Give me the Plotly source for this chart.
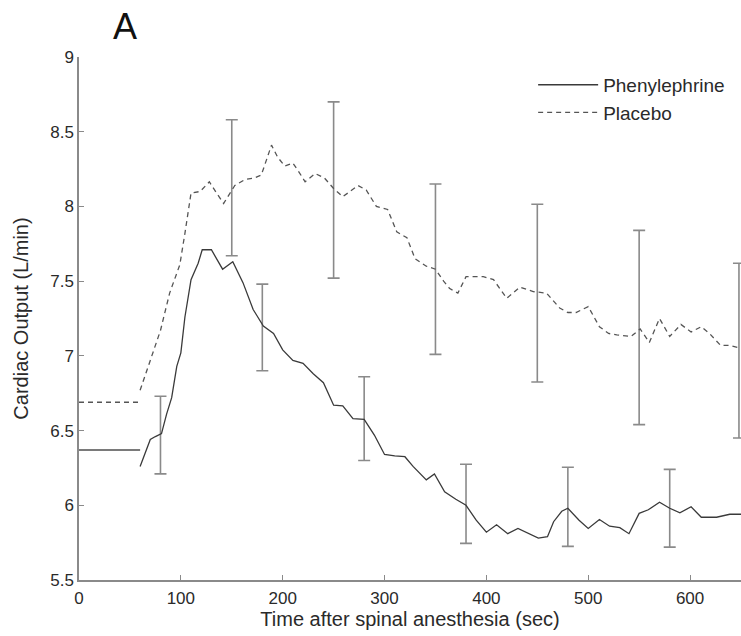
import plotly.graph_objects as go

# ---- data ----
phen_x = [60, 70, 75, 81, 86, 91, 96, 100, 104, 110, 117, 121, 130, 141, 151, 161, 171, 181, 191, 200,
          210, 220, 230, 240, 250, 259, 269, 280, 290, 300, 310, 320, 328, 341, 349, 359, 370, 380, 390,
          400, 410, 421, 431, 439, 451, 460, 466, 474, 480, 491, 500, 511, 521, 531, 540, 550, 559, 570,
          580, 590, 601, 611, 626, 639, 650]
phen_y = [6.26, 6.44, 6.46, 6.48, 6.61, 6.72, 6.93, 7.02, 7.26, 7.51, 7.62, 7.71, 7.71, 7.58, 7.63, 7.49,
          7.31, 7.20, 7.15, 7.04, 6.97, 6.95, 6.88, 6.82, 6.67, 6.665, 6.58, 6.575, 6.47, 6.34, 6.33, 6.325,
          6.26, 6.17, 6.21, 6.09, 6.04, 6.00, 5.90, 5.82, 5.87, 5.81, 5.845, 5.82, 5.78, 5.79, 5.89, 5.96,
          5.98, 5.90, 5.845, 5.905, 5.86, 5.85, 5.81, 5.946, 5.97, 6.02, 5.98, 5.95, 5.99, 5.92, 5.92, 5.94,
          5.94]

plac_x = [60, 70, 80, 89, 99, 104, 110, 119, 128, 135, 142, 153, 163, 172, 179, 189, 195, 202, 210, 216,
          222, 232, 241, 250, 259, 266, 274, 282, 292, 303, 312, 322, 330, 341, 350, 358, 364, 372, 380,
          390, 397, 407, 420, 433, 446, 459, 466, 472, 480, 488, 500, 511, 520, 528, 542, 551, 560, 570,
          580, 591, 601, 611, 619, 630, 639, 650]
plac_y = [6.77, 6.97, 7.17, 7.42, 7.61, 7.82, 8.09, 8.10, 8.165, 8.09, 8.02, 8.14, 8.18, 8.19, 8.21, 8.41,
          8.33, 8.27, 8.29, 8.23, 8.165, 8.22, 8.19, 8.12, 8.065, 8.10, 8.14, 8.11, 8.00, 7.98, 7.83, 7.79,
          7.65, 7.60, 7.58, 7.50, 7.45, 7.42, 7.53, 7.53, 7.53, 7.51, 7.385, 7.46, 7.43, 7.42, 7.37, 7.32,
          7.29, 7.29, 7.33, 7.195, 7.15, 7.14, 7.13, 7.18, 7.09, 7.25, 7.13, 7.21, 7.16, 7.195, 7.15, 7.07,
          7.07, 7.05]

base_x = [0, 60]
phen_base = [6.37, 6.37]
plac_base = [6.69, 6.69]

phen_err_x = [80, 180, 280, 380, 480, 580]
phen_mean = [6.47, 7.19, 6.58, 6.01, 5.99, 5.98]
phen_sd = [0.26, 0.29, 0.28, 0.265, 0.265, 0.26]

plac_err_x = [150, 250, 350, 450, 550, 648]
plac_mean = [8.125, 8.11, 7.58, 7.42, 7.19, 7.035]
plac_sd = [0.455, 0.59, 0.57, 0.595, 0.65, 0.585]

x_ticks = [0, 100, 200, 300, 400, 500, 600]
y_ticks = [5.5, 6, 6.5, 7, 7.5, 8, 8.5, 9]

FONT = "Liberation Sans, Arial, sans-serif"
LINE = "#3a3a3a"
GRAY = "#8a8a8a"

fig = go.Figure()

# error bars
for ex, em, es in ((phen_err_x, phen_mean, phen_sd), (plac_err_x, plac_mean, plac_sd)):
    fig.add_trace(go.Scatter(
        x=ex, y=em, mode="markers", marker=dict(size=1, color="rgba(0,0,0,0)"),
        error_y=dict(type="data", array=es, visible=True, color=GRAY, thickness=1.6, width=6),
        showlegend=False, hoverinfo="skip", cliponaxis=False))

# baselines
fig.add_trace(go.Scatter(x=base_x, y=phen_base, mode="lines",
                         line=dict(color="#7a7a7a", width=2), showlegend=False))
fig.add_trace(go.Scatter(x=base_x, y=plac_base, mode="lines",
                         line=dict(color="#555555", width=1.6, dash="5px,4px"), showlegend=False))

# curves
fig.add_trace(go.Scatter(x=phen_x, y=phen_y, mode="lines", name="Phenylephrine",
                         line=dict(color=LINE, width=1.3)))
fig.add_trace(go.Scatter(x=plac_x, y=plac_y, mode="lines", name="Placebo",
                         line=dict(color="#555555", width=1.3, dash="5px,4px")))

axis_common = dict(showgrid=False, zeroline=False, showline=True, linecolor=GRAY, linewidth=1.5,
                   ticks="inside", ticklen=5, tickcolor=GRAY, tickwidth=1.2,
                   tickfont=dict(family=FONT, size=17, color="#2a2a2a"), mirror=False)

fig.update_layout(
    width=741, height=636, autosize=False,
    margin=dict(l=79, r=0, t=57, b=56),
    paper_bgcolor="white", plot_bgcolor="white",
    font=dict(family=FONT, color="#2a2a2a"),
    xaxis=dict(range=[0, 650], tickvals=x_ticks, ticklabelstandoff=2,
               title=dict(text="Time after spinal anesthesia (sec)", font=dict(family=FONT, size=20, color="#2a2a2a"),
                          standoff=4), **axis_common),
    yaxis=dict(range=[5.5, 9], tickvals=y_ticks,
               title=dict(text="Cardiac Output (L/min)", font=dict(family=FONT, size=20, color="#2a2a2a"),
                          standoff=16), **axis_common),
    legend=dict(x=0.686, y=0.983, xanchor="left", yanchor="top", bgcolor="rgba(0,0,0,0)",
                font=dict(family=FONT, size=19, color="#2a2a2a"), itemwidth=60, tracegroupgap=0),
    annotations=[dict(text="A", xref="paper", yref="paper", x=0.0695, y=1.059, xanchor="center",
                      yanchor="middle", showarrow=False, font=dict(family=FONT, size=36, color="#111"))],
)

fig.write_html("out.html")
